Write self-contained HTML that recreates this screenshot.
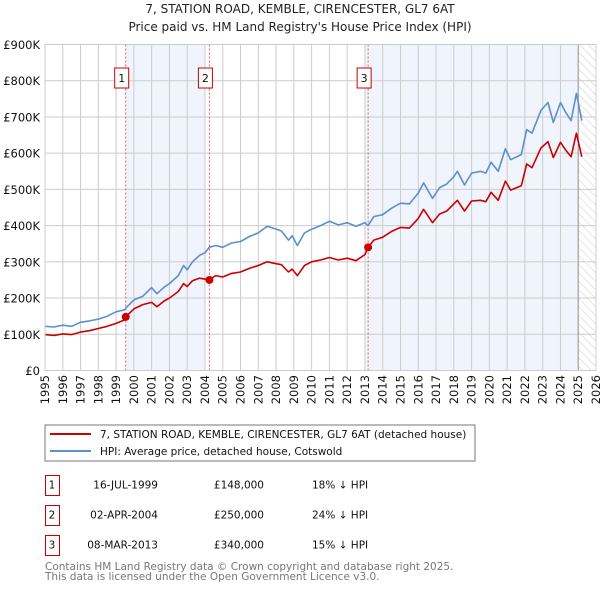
<!DOCTYPE html>
<html><head><meta charset="utf-8">
<style>
body{margin:0;background:#fff;font-family:"DejaVu Sans","Liberation Sans",sans-serif;}
#wrap{position:relative;width:600px;height:590px;overflow:hidden;}
svg text{font-family:"DejaVu Sans","Liberation Sans",sans-serif;}
</style></head>
<body>
<div id="wrap">
<svg id="chart" width="600" height="590" viewBox="0 0 600 590">
<defs>
<pattern id="hatch" width="6" height="6" patternUnits="userSpaceOnUse" patternTransform="rotate(-45)">
<line x1="0" y1="0" x2="0" y2="6" stroke="#ccc" stroke-width="1"/>
</pattern>
</defs>
<text x="300" y="13" text-anchor="middle" font-size="12" fill="#222">7, STATION ROAD, KEMBLE, CIRENCESTER, GL7 6AT</text>
<text x="300" y="31" text-anchor="middle" font-size="12" fill="#222">Price paid vs. HM Land Registry's House Price Index (HPI)</text>
<g id="plot"></g>
<rect x="45" y="425" width="430" height="36" fill="#fff" stroke="#777"/>
<line x1="50" y1="434" x2="91" y2="434" stroke="#cc0000" stroke-width="2"/>
<text x="100" y="438" font-size="10.5" fill="#111">7, STATION ROAD, KEMBLE, CIRENCESTER, GL7 6AT (detached house)</text>
<line x1="50" y1="451" x2="91" y2="451" stroke="#5b8fd0" stroke-width="2"/>
<text x="100" y="455" font-size="10.5" fill="#111">HPI: Average price, detached house, Cotswold</text>
<g id="table" font-size="10.5" fill="#111"></g>
<text x="45" y="570" font-size="10.5" fill="#777">Contains HM Land Registry data © Crown copyright and database right 2025.</text>
<text x="45" y="580" font-size="10.5" fill="#777">This data is licensed under the Open Government Licence v3.0.</text>
</svg>
</div>
<script>
const yearTicks=[1995,1996,1997,1998,1999,2000,2001,2002,2003,2004,2005,2006,2007,2008,2009,2010,2011,2012,2013,2014,2015,2016,2017,2018,2019,2020,2021,2022,2023,2024,2025,2026];
const valueTicks=[0,100,200,300,400,500,600,700,800,900];
const valueTickLabels=["£0","£100K","£200K","£300K","£400K","£500K","£600K","£700K","£800K","£900K"];
const times=[1995.0,1995.5,1996.0,1996.5,1997.0,1997.5,1998.0,1998.5,1999.0,1999.5,1999.54,2000.0,2000.5,2001.0,2001.3,2001.7,2002.0,2002.5,2002.8,2003.0,2003.3,2003.7,2004.0,2004.25,2004.6,2005.0,2005.5,2006.0,2006.5,2007.0,2007.5,2007.9,2008.3,2008.7,2008.9,2009.2,2009.6,2010.0,2010.5,2011.0,2011.5,2012.0,2012.5,2013.0,2013.18,2013.5,2014.0,2014.5,2015.0,2015.5,2016.0,2016.3,2016.8,2017.2,2017.6,2018.0,2018.2,2018.6,2019.0,2019.5,2019.8,2020.1,2020.5,2020.9,2021.2,2021.8,2022.1,2022.4,2022.9,2023.3,2023.6,2024.0,2024.3,2024.6,2024.9,2025.2];
const hpiValues=[122,120,125,122,133,137,142,150,162,168,172,195,205,229,212,230,240,262,290,278,300,318,325,340,345,340,352,356,370,380,398,392,385,360,372,345,380,390,400,412,402,408,398,408,400,425,430,448,462,460,490,518,475,505,515,535,550,512,545,550,545,575,550,612,582,596,665,655,718,740,685,740,712,690,765,690];
const priceValues=[99,97,101,99,106,110,116,122,130,140,148,170,182,188,176,192,200,218,240,232,248,255,252,250,262,258,268,272,282,290,300,296,292,272,280,262,290,300,305,312,305,310,303,320,340,360,368,384,395,393,420,445,408,432,440,460,470,440,468,470,466,492,470,523,498,510,570,560,614,632,588,630,608,590,655,590];
const saleTimes=[1999.54,2004.25,2013.18];
const salePrices=[148,250,340];
const saleLabels=["1","2","3"];
const saleDates=["16-JUL-1999","02-APR-2004","08-MAR-2013"];
const salePriceText=["£148,000","£250,000","£340,000"];
const saleDiffText=["18% ↓ HPI","24% ↓ HPI","15% ↓ HPI"];

const NS="http://www.w3.org/2000/svg";
const X0=45,X1=596,Y0=370.5,Y1=44.5;
const xs=t=>X0+(t-1995)/(2026-1995)*(X1-X0);
const ys=v=>Y0-v/900*(Y0-Y1);
function mk(tag,attrs,parent){const e=document.createElementNS(NS,tag);for(const k in attrs)e.setAttribute(k,attrs[k]);parent.appendChild(e);return e;}
const plot=document.getElementById('plot');

let r=mk('rect',{x:X0,y:Y1,width:X1-X0,height:Y0-Y1,fill:'#fff'},plot);


r=mk('rect',{x:xs(1999.54),y:Y1,width:xs(2004.0)-xs(1999.54),height:Y0-Y1,fill:'#f0f4fc'},plot);


r=mk('rect',{x:xs(2013.0),y:Y1,width:xs(2025.0)-xs(2013.0),height:Y0-Y1,fill:'#f0f4fc'},plot);


r=mk('rect',{x:xs(2025.0),y:Y1,width:X1-xs(2025.0),height:Y0-Y1,fill:'url(#hatch)'},plot);



yearTicks.forEach(y=>{
  const l=mk('line',{x1:xs(y),x2:xs(y),y1:Y1,y2:Y0,stroke:'#ccc','stroke-width':1},plot);
  
  
  const tx=xs(y)+4, ty=375;
  const t=mk('text',{x:tx,y:ty,'text-anchor':'end','font-size':'11.5',fill:'#111',transform:'rotate(-90 '+tx+' '+ty+')'},plot);
  t.textContent=y;
  
  
});
valueTicks.forEach((v,i)=>{
  const l=mk('line',{x1:X0,x2:X1,y1:ys(v),y2:ys(v),stroke:'#ccc','stroke-width':1},plot);
  
  
  const t=mk('text',{x:40,y:ys(v)+4.5,'text-anchor':'end','font-size':'11.5',fill:'#111'},plot);
  t.textContent=valueTickLabels[i];
  
  
});
let vl=mk('line',{x1:xs(2025.0),x2:xs(2025.0),y1:Y1,y2:Y0,stroke:'#999','stroke-width':1},plot);



saleTimes.forEach((t,i)=>{
  const l=mk('line',{x1:xs(t),x2:xs(t),y1:Y1,y2:Y0,stroke:'#e06060','stroke-width':1,'stroke-dasharray':'2,2'},plot);
  
  
  const b=mk('rect',{x:xs(t)-11,y:68,width:14,height:20,fill:'#fff',stroke:'#cc0000','stroke-width':1},plot);
  
  
  const tx=mk('text',{x:xs(t)-4,y:82,'text-anchor':'middle','font-size':'11',fill:'#111'},plot);
  tx.textContent=saleLabels[i];
  
  
});

function path(vals){return vals.map((v,i)=>(i?'L':'M')+xs(times[i]).toFixed(1)+','+ys(v).toFixed(1)).join('');}
let p=mk('path',{d:path(hpiValues),fill:'none',stroke:'#5b8fd0','stroke-width':1.6,'stroke-linejoin':'round'},plot);


p=mk('path',{d:path(priceValues),fill:'none',stroke:'#cc0000','stroke-width':1.6,'stroke-linejoin':'round'},plot);


saleTimes.forEach((t,i)=>{
  const c=mk('circle',{cx:xs(t),cy:ys(salePrices[i]),r:4,fill:'#cc0000'},plot);
  
  
});
let ax=mk('rect',{x:X0,y:Y1,width:X1-X0,height:Y0-Y1,fill:'none',stroke:'#ccc'},plot);



const tbl=document.getElementById('table');
saleLabels.forEach((lab,i)=>{
  const y=475+i*30;
  const b=mk('rect',{x:45.5,y:y+0.5,width:14,height:20,fill:'#fff',stroke:'#cc0000'},tbl);
  
  
  const cells=[[52,'middle',lab,'table-row-number'],[158,'end',saleDates[i],'table-date'],[264,'end',salePriceText[i],'table-price'],[312,'start',saleDiffText[i],'table-hpi-diff']];
  cells.forEach(c=>{
    const t=mk('text',{x:c[0],y:y+13.5,'text-anchor':c[1],'font-size':'10.5',fill:'#111'},tbl);
    t.textContent=c[2];
    
    
  });
});
</script>
</body></html>
